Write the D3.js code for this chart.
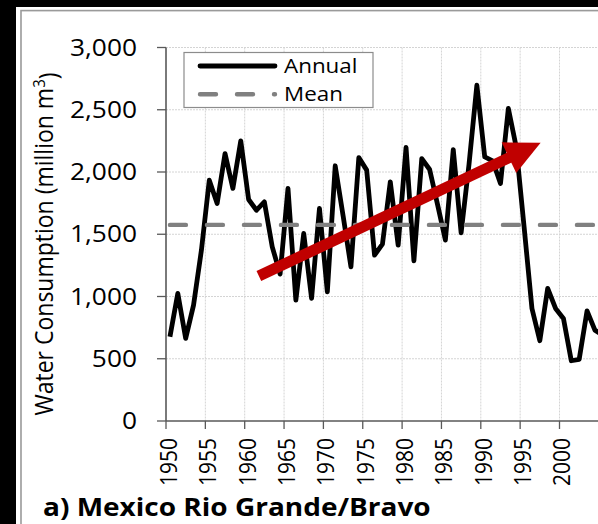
<!DOCTYPE html>
<html>
<head>
<meta charset="utf-8">
<script src="https://cdn.jsdelivr.net/npm/d3@7"></script>
<style>
    html, body { margin: 0; padding: 0; background: #000; }
    svg { display: block; }
    text { font-family: "Open Sans", "Liberation Sans", sans-serif; fill: #000; }
</style>
</head>
<body>
<div id="chart_div"></div>
<script>
// annual water consumption, Mexico Rio Grande/Bravo (million m3)
let years = d3.range(1950, 2006);
let annual = [
    677, 1025, 664, 931, 1372, 1934, 1747, 2148, 1868, 2250,
    1779, 1693, 1760, 1399, 1180, 1868, 971, 1506, 985, 1707,
    1038, 2050, 1650, 1238, 2116, 2015, 1332, 1420, 1921, 1412,
    2197, 1287, 2108, 2020, 1740, 1453, 2180, 1512, 2060, 2697,
    2121, 2090, 1908, 2510, 2200, 1560, 904, 645, 1065, 904,
    824, 484, 495, 885, 730, 690
];
let mean_value = 1575;
let y_ticks = [0, 500, 1000, 1500, 2000, 2500, 3000];
let x_tick_years = [1950, 1955, 1960, 1965, 1970, 1975, 1980, 1985, 1990, 1995, 2000];
let legend_labels = ['Annual', 'Mean'];
// trend arrow, from [year, value] to [year, value]
let trend_from = [1961.3, 1164];
let trend_to = [1997.1, 2235];

let W = 598, H = 524;
let SX = 1.12; // horizontal glyph stretch seen in the reference

let svg = d3.select('#chart_div').append('svg')
    .attr('width', W)
    .attr('height', H);

// frame
svg.append('rect').attr('width', W).attr('height', H).attr('fill', '#000');
svg.append('rect').attr('x', 16).attr('y', 7).attr('width', W).attr('height', H).attr('fill', '#fff');
svg.append('rect').attr('x', 21).attr('y', 10.6).attr('width', W).attr('height', H)
    .attr('fill', 'none').attr('stroke', '#9a9a9a').attr('stroke-width', 1.6);

let margin = {left: 166, top: 47.5, bottom: 421};
let year_w = 7.87;

let x = d3.scaleLinear()
    .domain([1949.5, 2005.5])
    .range([margin.left, margin.left + 56 * year_w]);

let y = d3.scaleLinear()
    .domain([0, 3000])
    .range([margin.bottom, margin.top]);

// gridlines
let grid = svg.append('g').attr('class', 'grid');
grid.selectAll('.hgrid')
    .data(y_ticks.filter(d => d > 0))
    .enter().append('line')
    .attr('x1', x(1949.5)).attr('x2', W)
    .attr('y1', d => y(d)).attr('y2', d => y(d))
    .attr('stroke', '#d4d4d4').attr('stroke-width', 1).attr('stroke-dasharray', '2,1');
grid.selectAll('.vgrid')
    .data(x_tick_years.filter(d => d > 1950))
    .enter().append('line')
    .attr('x1', d => x(d - 0.5)).attr('x2', d => x(d - 0.5))
    .attr('y1', y(3000)).attr('y2', y(0))
    .attr('stroke', '#d4d4d4').attr('stroke-width', 1).attr('stroke-dasharray', '2,1');

// annual line
let line = d3.line()
    .x((d, i) => x(years[i]))
    .y(d => y(d));

svg.append('path')
    .datum(annual)
    .attr('d', line)
    .attr('fill', 'none')
    .attr('stroke', '#000')
    .attr('stroke-width', 4.8)
    .attr('stroke-linejoin', 'round');

// mean line
svg.append('line')
    .attr('x1', x(1950)).attr('x2', W + 20)
    .attr('y1', y(mean_value)).attr('y2', y(mean_value))
    .attr('stroke', '#808080')
    .attr('stroke-width', 4.4)
    .attr('stroke-linecap', 'round')
    .attr('stroke-dasharray', '16,21');

// trend arrow
function draw_arrow(from, to) {
    let x0 = x(from[0]), y0 = y(from[1]);
    let x1 = x(to[0]), y1 = y(to[1]);
    let len = Math.hypot(x1 - x0, y1 - y0);
    let ux = (x1 - x0) / len, uy = (y1 - y0) / len;
    let head_len = 35, head_w = 34;
    let bx = x1 - ux * head_len, by = y1 - uy * head_len;

    svg.append('line')
        .attr('x1', x0).attr('y1', y0)
        .attr('x2', bx + ux * 2).attr('y2', by + uy * 2)
        .attr('stroke', '#c00000')
        .attr('stroke-width', 11);

    svg.append('polygon')
        .attr('points', [
            [x1, y1],
            [bx - uy * head_w / 2, by + ux * head_w / 2],
            [bx + uy * head_w / 2, by - ux * head_w / 2]
        ].map(p => p.join(',')).join(' '))
        .attr('fill', '#c00000');
}
draw_arrow(trend_from, trend_to);

// axes
let axis_color = '#595959';

let y_axis = svg.append('g');
y_axis.append('line')
    .attr('x1', margin.left).attr('x2', margin.left)
    .attr('y1', y(3000)).attr('y2', y(0))
    .attr('stroke', axis_color).attr('stroke-width', 1.6);
y_axis.selectAll('.ytick')
    .data(y_ticks)
    .enter().append('line')
    .attr('x1', margin.left - 9).attr('x2', margin.left)
    .attr('y1', d => y(d)).attr('y2', d => y(d))
    .attr('stroke', axis_color).attr('stroke-width', 1.3);
y_axis.selectAll('.ylab')
    .data(y_ticks)
    .enter().append('g')
    .attr('transform', d => `translate(137,${y(d)}) scale(${SX},1)`)
    .append('text')
    .attr('text-anchor', 'end')
    .attr('dy', '0.35em')
    .style('font-size', '23.5px')
    .text(d => d3.format(',')(d));

let x_axis = svg.append('g');
x_axis.append('line')
    .attr('x1', margin.left).attr('x2', W)
    .attr('y1', y(0)).attr('y2', y(0))
    .attr('stroke', axis_color).attr('stroke-width', 1.6);
x_axis.selectAll('.xtick')
    .data(x_tick_years)
    .enter().append('line')
    .attr('x1', d => x(d - 0.5)).attr('x2', d => x(d - 0.5))
    .attr('y1', y(0)).attr('y2', y(0) + 8)
    .attr('stroke', axis_color).attr('stroke-width', 1.3);
x_axis.selectAll('.xlab')
    .data(x_tick_years)
    .enter().append('g')
    .attr('transform', d => `translate(${x(d) + 7},438) scale(${SX},1) rotate(-90)`)
    .append('text')
    .attr('text-anchor', 'end')
    .style('font-size', '21px')
    .text(d => d);

// axis title
svg.append('g')
    .attr('transform', `translate(52.5,244) scale(${SX},1) rotate(-90)`)
    .append('text')
    .attr('text-anchor', 'middle')
    .style('font-size', '23px')
    .text('Water Consumption (million m')
    .append('tspan')
    .attr('dy', '-0.45em')
    .style('font-size', '15px')
    .text('3')
    .select(function () { return this.parentNode; })
    .append('tspan')
    .attr('dy', '0.45em')
    .text(')');

// legend
let legend = svg.append('g');
legend.append('rect')
    .attr('x', 184).attr('y', 52.5)
    .attr('width', 189).attr('height', 55)
    .attr('fill', '#fff')
    .attr('stroke', '#8c8c8c')
    .attr('stroke-width', 1.2);

let legend_y = [66, 94.3];
legend.append('line')
    .attr('x1', 200).attr('x2', 275)
    .attr('y1', legend_y[0]).attr('y2', legend_y[0])
    .attr('stroke', '#000').attr('stroke-width', 4.8).attr('stroke-linecap', 'round');
legend.append('line')
    .attr('x1', 200).attr('x2', 275)
    .attr('y1', legend_y[1]).attr('y2', legend_y[1])
    .attr('stroke', '#808080').attr('stroke-width', 4.4)
    .attr('stroke-linecap', 'round').attr('stroke-dasharray', '16,21');
legend.selectAll('.leglab')
    .data(legend_labels)
    .enter().append('g')
    .attr('transform', (d, i) => `translate(284,${legend_y[i] + 7}) scale(${SX},1)`)
    .append('text')
    .style('font-size', '20px')
    .text(d => d);

// panel title
svg.append('g')
    .attr('transform', `translate(43,516) scale(${SX},1)`)
    .append('text')
    .style('font-size', '25px')
    .style('font-weight', 'bold')
    .text('a) Mexico Rio Grande/Bravo');
</script>
</body>
</html>
